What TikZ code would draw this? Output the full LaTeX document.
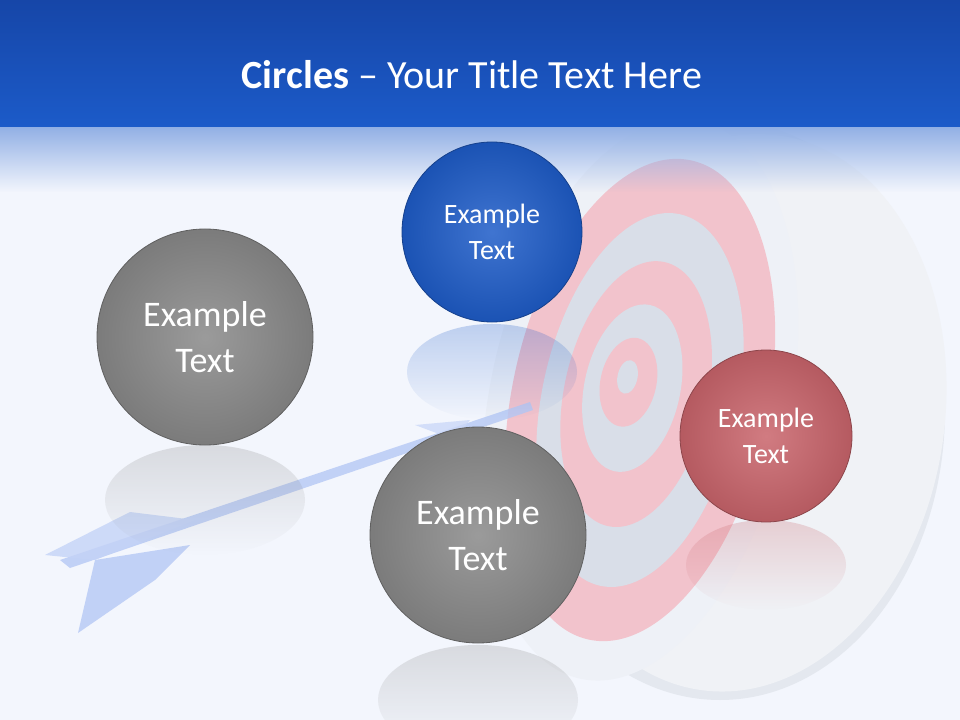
\documentclass[tikz,border=0pt]{standalone}
\usepackage{fontspec}
\setmainfont{Carlito}
\usetikzlibrary{shadings,fadings}
\definecolor{bg}{HTML}{F3F6FD}
\definecolor{topblue}{HTML}{1646A8}
\definecolor{midblue}{HTML}{1C5BC9}
\definecolor{ringpink}{HTML}{F2C3CC}
\definecolor{ringgray}{HTML}{D9DEE8}
\definecolor{facewhite}{HTML}{EEF1F7}
\definecolor{ballgray}{HTML}{898989}
\definecolor{ballblue}{HTML}{1E5CC8}
\definecolor{ballred}{HTML}{C9646B}
\definecolor{arrowblue}{HTML}{B5C8F5}
\tikzfading[name=fadedown, top color=transparent!75, bottom color=transparent!100]
\tikzfading[name=fadebar, top color=transparent!0, bottom color=transparent!100]
\tikzset{
  ball/.style={circle, draw=#1!70!black, line width=0.6pt, inner color=#1!85!white, outer color=#1!90!black, text=white, align=center, font=\fontsize{27}{34}\selectfont},
  refl/.style={fill=#1, path fading=fadedown},
}
\begin{document}
\begin{tikzpicture}[x=0.75pt,y=-0.75pt]
\useasboundingbox (0,0) rectangle (960,720);
\fill[bg] (0,0) rectangle (960,720);
% target side
\fill[ringgray!70!white] (720,410) ellipse [x radius=225, y radius=290];
\fill[ringgray!40!white,rotate around={-8:(720,410)}] (740,410) ellipse [x radius=205, y radius=280];
% face
\begin{scope}[rotate around={-12:(640,400)}]
\fill[facewhite] (640,400) ellipse [x radius=150, y radius=285];
\fill[ringpink] (640,400) ellipse [x radius=128, y radius=245];
\fill[ringgray] (640,400) ellipse [x radius=98, y radius=190];
\fill[ringpink] (635,395) ellipse [x radius=72, y radius=135];
\fill[ringgray] (630,390) ellipse [x radius=48, y radius=85];
\fill[ringpink] (625,385) ellipse [x radius=28, y radius=45];
\fill[ringgray] (623,380) ellipse [x radius=10, y radius=17];
\end{scope}
% arrow
\fill[arrowblue, opacity=0.8] (60,560) -- (530,402) -- (533,410) -- (70,568) -- cycle;
\fill[arrowblue!80!white, opacity=0.8] (45,555) -- (130,512) -- (195,520) -- (95,560) -- cycle;
\fill[arrowblue, opacity=0.8] (95,560) -- (190,545) -- (155,580) -- (78,633) -- cycle;
\fill[arrowblue!70!white, opacity=0.8] (415,425) -- (470,420) -- (455,440) -- cycle;
% title bar
\shade[top color=topblue, bottom color=midblue] (0,0) rectangle (960,128);
\fill[midblue!45!bg, path fading=fadebar] (0,127) rectangle (960,192);
\node[text=white, font=\fontsize{30}{34}\selectfont] (title) at (472,75) {\textbf{Circles} -- Your Title Text Here};
% reflections
\fill[refl=ballgray] (205,500) ellipse [x radius=100, y radius=55];
\fill[refl=ballblue] (492,372) ellipse [x radius=85, y radius=48];
\fill[refl=ballgray] (478,700) ellipse [x radius=100, y radius=55];
\fill[refl=ballred] (766,565) ellipse [x radius=80, y radius=45];
% balls
\node[ball=ballgray, minimum size=162pt] (b1) at (205,337) {Example\\Text};
\node[ball=ballblue, minimum size=135pt, font=\fontsize{21}{27}\selectfont] (b2) at (492,232) {Example\\Text};
\node[ball=ballgray, minimum size=162pt] (b3) at (478,535) {Example\\Text};
\node[ball=ballred, minimum size=129pt, font=\fontsize{21}{27}\selectfont] (b4) at (766,436) {Example\\Text};
\end{tikzpicture}
\end{document}
